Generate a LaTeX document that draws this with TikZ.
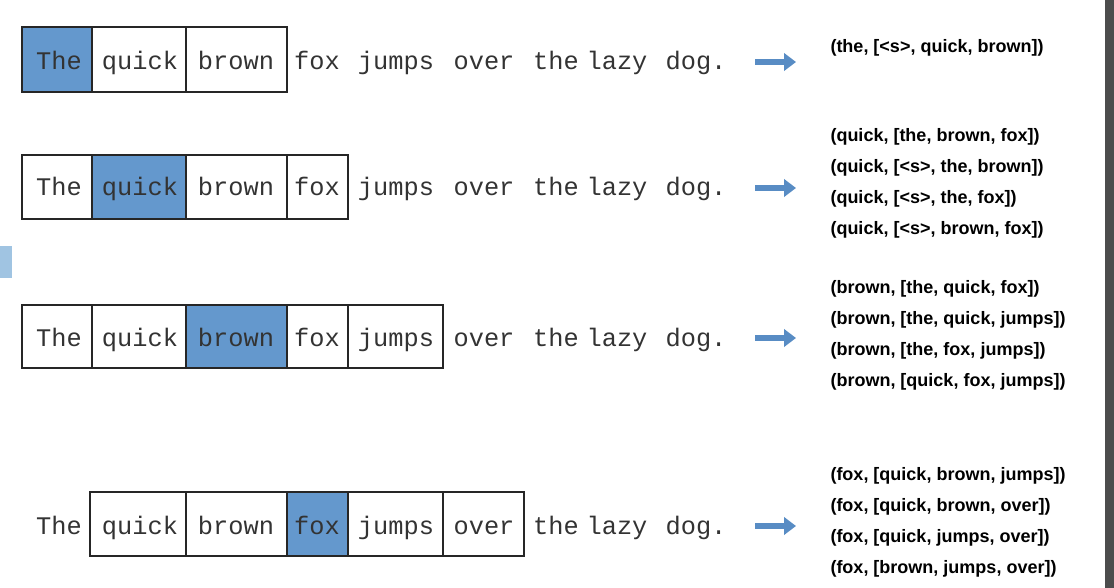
\documentclass[tikz,border=0pt]{standalone}
\usepackage{fontspec}
\setmainfont{Liberation Sans}
\newfontfamily\wordfont{Liberation Mono}
\usetikzlibrary{arrows.meta}
\definecolor{wordblue}{RGB}{100,152,205}
\definecolor{arrowblue}{RGB}{88,140,196}
\definecolor{tabblue}{RGB}{160,196,226}
\tikzset{every picture/.style={line width=0.75pt},
  word/.style={font=\wordfont\fontsize{19}{19}\selectfont, text=black!80, inner sep=0pt, anchor=base},
  pair/.style={font=\bfseries\fontsize{13.5}{14}\selectfont, anchor=west, inner sep=0pt},
  wordbox/.style={draw=black!85, line width=1.5pt},
  bigarrow/.style={arrowblue, line width=4pt, -{Triangle[length=9pt,width=13pt]}}}

\begin{document}
\begin{tikzpicture}[x=0.75pt,y=0.75pt,yscale=-1,xscale=1]
	\useasboundingbox (0,0) rectangle (1114,588);
	%Row 1
	\filldraw[wordbox, fill=wordblue] (22,27) rectangle (92,92);
	\draw[wordbox] (92,27) rectangle (186,92) (186,27) rectangle (287,92);
	%Row 2
	\draw[wordbox] (22,155) rectangle (92,219);
	\filldraw[wordbox, fill=wordblue] (92,155) rectangle (186,219);
	\draw[wordbox] (186,155) rectangle (287,219) (287,155) rectangle (348,219);
	%Row 3
	\draw[wordbox] (22,305) rectangle (92,368) (92,305) rectangle (186,368);
	\filldraw[wordbox, fill=wordblue] (186,305) rectangle (287,368);
	\draw[wordbox] (287,305) rectangle (348,368) (348,305) rectangle (443,368);
	%Row 4
	\draw[wordbox] (90,492) rectangle (186,556) (186,492) rectangle (287,556);
	\filldraw[wordbox, fill=wordblue] (287,492) rectangle (348,556);
	\draw[wordbox] (348,492) rectangle (443,556) (443,492) rectangle (524,556);

	% Words
	\foreach \r/\y in {a/70,b/196,c/346,d/534}{
		\foreach \w/\x/\t in {1/59/The,2/140/quick,3/236/brown,4/317/fox,5/396/jumps,6/484/over,7/556/the,8/617/lazy,9/696/dog.}
			\node[word] (w\r\w) at (\x,\y) {\t};
		\coordinate (s\r) at (755,\y-8);
		\coordinate (e\r) at (796,\y-8);
		\draw[bigarrow] (s\r) -- (e\r);
	}

	% Pairs
	\node[pair] (p1) at (830,48) {(the, [<s>, quick, brown])};
	\node[pair] (p2) at (830,137) {(quick, [the, brown, fox])};
	\node[pair] (p3) at (830,168) {(quick, [<s>, the, brown])};
	\node[pair] (p4) at (830,199) {(quick, [<s>, the, fox])};
	\node[pair] (p5) at (830,230) {(quick, [<s>, brown, fox])};
	\node[pair] (p6) at (830,289) {(brown, [the, quick, fox])};
	\node[pair] (p7) at (830,320) {(brown, [the, quick, jumps])};
	\node[pair] (p8) at (830,351) {(brown, [the, fox, jumps])};
	\node[pair] (p9) at (830,382) {(brown, [quick, fox, jumps])};
	\node[pair] (p10) at (830,476) {(fox, [quick, brown, jumps])};
	\node[pair] (p11) at (830,507) {(fox, [quick, brown, over])};
	\node[pair] (p12) at (830,538) {(fox, [quick, jumps, over])};
	\node[pair] (p13) at (830,569) {(fox, [brown, jumps, over])};

	% Edges
	\fill[black!70] (1105,0) rectangle (1114,588);
	\fill[tabblue] (0,246) rectangle (12,278);
\end{tikzpicture}
\end{document}
